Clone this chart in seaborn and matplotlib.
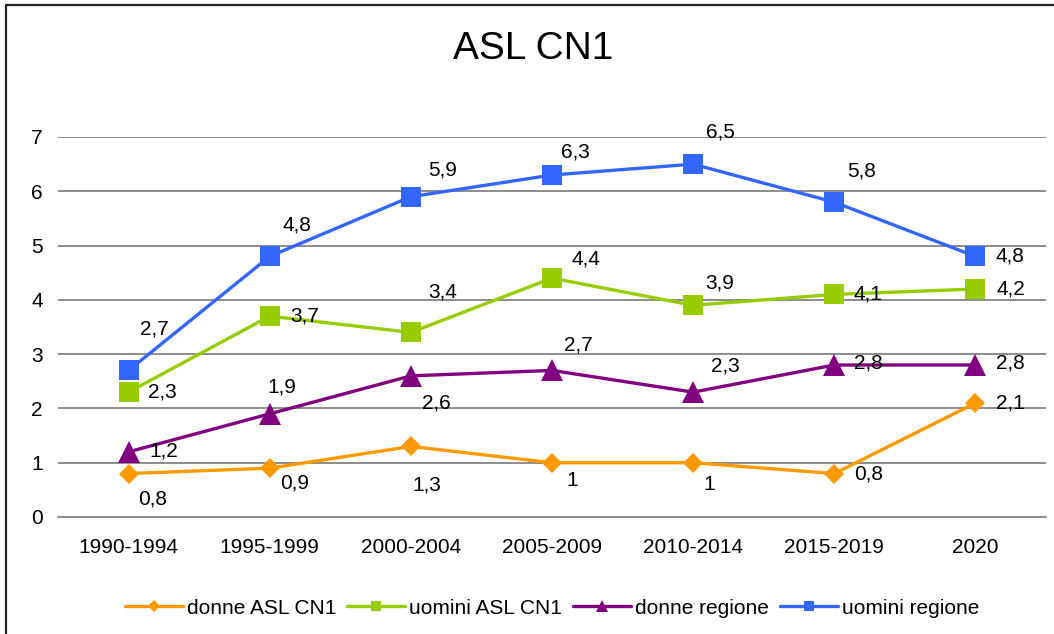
import matplotlib
matplotlib.use("Agg")
import matplotlib.pyplot as plt
import seaborn as sns
import pandas as pd
from matplotlib.lines import Line2D

# ---------------- data ----------------
categories = ["1990-1994", "1995-1999", "2000-2004", "2005-2009", "2010-2014", "2015-2019", "2020"]
donne_asl = [0.8, 0.9, 1.3, 1.0, 1.0, 0.8, 2.1]
uomini_asl = [2.3, 3.7, 3.4, 4.4, 3.9, 4.1, 4.2]
donne_regione = [1.2, 1.9, 2.6, 2.7, 2.3, 2.8, 2.8]
uomini_regione = [2.7, 4.8, 5.9, 6.3, 6.5, 5.8, 4.8]
series_names = ["donne ASL CN1", "uomini ASL CN1", "donne regione", "uomini regione"]
y_ticks = [0, 1, 2, 3, 4, 5, 6, 7]
title = "ASL CN1"

# ---------------- styles ----------------
colors = ["#FF9900", "#99CC00", "#800080", "#3366FF"]
markers = ["D", "s", "^", "s"]
msizes = [10.2, 14, 16, 14]
# label offsets in pixels (dx, dy with dy positive = down)
label_offsets = [
    [(24, 25), (25, 15), (16, 39), (20, 18), (16, 22), (34, 0), (35, 0)],
    [(34, 0), (35, 0), (32, -40), (34, -19), (27, -22), (34, 0), (35, 0)],
    [(35, -1), (12, -27), (26, 27), (26, -25), (32, -26), (34, -2), (35, -2)],
    [(26, -41), (27, -31), (32, -27), (23, -23), (27, -32), (27, -31), (35, 0)],
]

sns.set_theme(style="white")
plt.rcParams["font.family"] = ["Liberation Sans", "DejaVu Sans"]
plt.rcParams["text.color"] = "black"
plt.rcParams["xtick.color"] = "black"
plt.rcParams["ytick.color"] = "black"

all_values = [donne_asl, uomini_asl, donne_regione, uomini_regione]
rows = []
for name, vals in zip(series_names, all_values):
    for i, (c, v) in enumerate(zip(categories, vals)):
        rows.append({"idx": i, "categoria": c, "valore": v, "serie": name})
df = pd.DataFrame(rows)

fig = plt.figure(figsize=(10.54, 6.34), dpi=100)
ax = fig.add_axes([58 / 1054, 1 - 517 / 634, (1046 - 58) / 1054, (517 - 137) / 634])

palette = dict(zip(series_names, colors))
for name, mk, ms in zip(series_names, markers, msizes):
    sub = df[df["serie"] == name]
    sns.lineplot(data=sub, x="idx", y="valore", color=palette[name], marker=mk,
                 markersize=ms, markeredgewidth=0, linewidth=2.4, ax=ax,
                 legend=False, zorder=3)

# data labels
for vals, offs in zip(all_values, label_offsets):
    for i, (v, (dx, dy)) in enumerate(zip(vals, offs)):
        txt = ("%g" % v).replace(".", ",")
        ax.annotate(txt, xy=(i, v), xytext=(dx, -dy), textcoords="offset pixels",
                    ha="center", va="center", fontsize=15, color="black", zorder=5)

ax.set_xlim(-0.5, len(categories) - 0.5)
ax.set_ylim(0, 7)
ax.set_yticks(y_ticks)
ax.set_yticklabels([str(t) for t in y_ticks], fontsize=15, color="black")
ax.set_xticks(range(len(categories)))
ax.set_xticklabels(categories, fontsize=15, color="black")
ax.set_xticks([i - 0.5 for i in range(len(categories) + 1)], minor=True)
ax.tick_params(axis="x", which="major", length=0, pad=15, labelcolor="black")
ax.tick_params(axis="x", which="minor", length=4.5, width=1, color="#707070", direction="out")
ax.tick_params(axis="y", length=0, pad=11, labelcolor="black")
ax.set_xlabel("")
ax.set_ylabel("")

ax.grid(False)
for t in y_ticks[1:]:
    ax.axhline(t, color="#6e6e6e", linewidth=1.1, zorder=1)
for s in ["top", "right", "left"]:
    ax.spines[s].set_visible(False)
ax.spines["bottom"].set_color("#6e6e6e")
ax.spines["bottom"].set_linewidth(1.1)

# legend
handles = [Line2D([0], [0], color=c, marker=m, markersize=ms * 0.55, markeredgewidth=0,
                  linewidth=2.4) for c, m, ms in zip(colors, markers, msizes)]
leg = ax.legend(handles, series_names, loc="center", bbox_to_anchor=(0.5, -0.2395), ncol=4,
                frameon=False, fontsize=15, handlelength=2.8, handletextpad=0.2,
                columnspacing=0.5, borderpad=0)
for t in leg.get_texts():
    t.set_color("black")

# title
fig.text(533 / 1054, 1 - 49 / 634, title, ha="center", va="center", fontsize=28, color="black")

# outer frame (left and top edges visible)
fig.add_artist(Line2D([6 / 1054, 6 / 1054], [0, 1 - 5 / 634], transform=fig.transFigure,
                      color="#222222", linewidth=1.6))
fig.add_artist(Line2D([6 / 1054, 1], [1 - 5 / 634, 1 - 5 / 634], transform=fig.transFigure,
                      color="#222222", linewidth=1.6))

fig.savefig("out.png", dpi=100)
